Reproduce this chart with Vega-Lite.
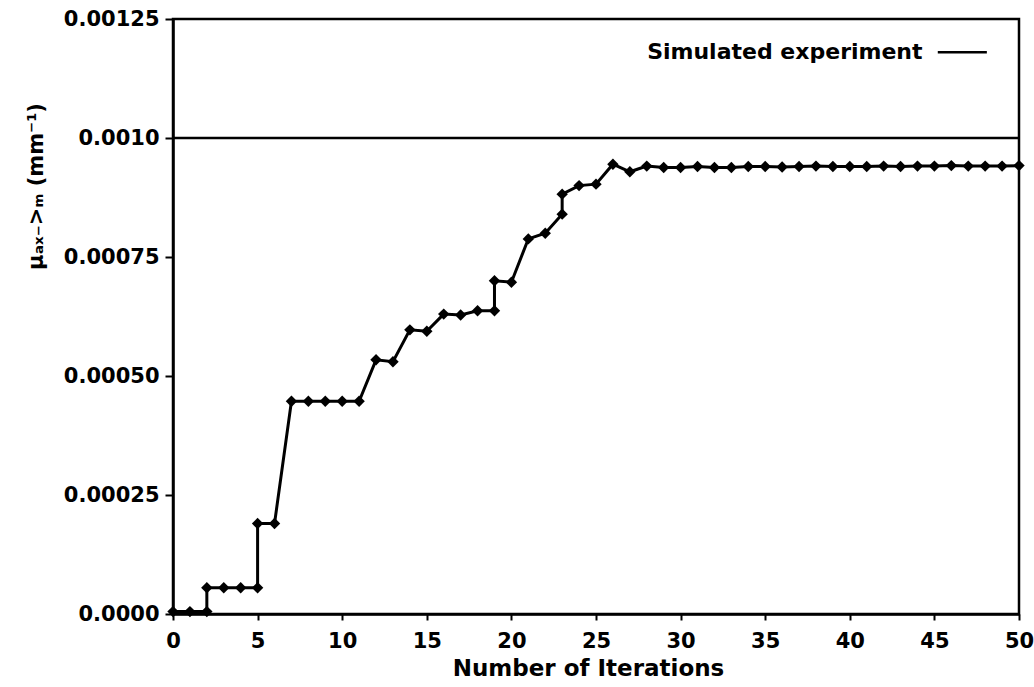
{
  "$schema": "https://vega.github.io/schema/vega-lite/v6.json",
  "width": 846,
  "height": 595,
  "autosize": {"type": "none"},
  "padding": {"left": 173, "top": 19, "right": 15, "bottom": 73},
  "background": "white",
  "config": {"view": {"stroke": "black", "strokeWidth": 2.5}, "font": "DejaVu Sans"},
  "datasets": {
    "iterations": [
      {"step": 0, "iteration": 0, "mu": 0.000005},
      {"step": 1, "iteration": 1, "mu": 0.000005},
      {"step": 2, "iteration": 2, "mu": 0.000005},
      {"step": 3, "iteration": 2, "mu": 0.000055},
      {"step": 4, "iteration": 3, "mu": 0.000055},
      {"step": 5, "iteration": 4, "mu": 0.000055},
      {"step": 6, "iteration": 5, "mu": 0.000055},
      {"step": 7, "iteration": 5, "mu": 0.00019},
      {"step": 8, "iteration": 6, "mu": 0.00019},
      {"step": 9, "iteration": 7, "mu": 0.000447},
      {"step": 10, "iteration": 8, "mu": 0.000447},
      {"step": 11, "iteration": 9, "mu": 0.000447},
      {"step": 12, "iteration": 10, "mu": 0.000447},
      {"step": 13, "iteration": 11, "mu": 0.000447},
      {"step": 14, "iteration": 12, "mu": 0.000534},
      {"step": 15, "iteration": 13, "mu": 0.00053},
      {"step": 16, "iteration": 14, "mu": 0.000597},
      {"step": 17, "iteration": 15, "mu": 0.000594},
      {"step": 18, "iteration": 16, "mu": 0.00063},
      {"step": 19, "iteration": 17, "mu": 0.000628},
      {"step": 20, "iteration": 18, "mu": 0.000637},
      {"step": 21, "iteration": 19, "mu": 0.000637},
      {"step": 22, "iteration": 19, "mu": 0.0007},
      {"step": 23, "iteration": 20, "mu": 0.000697},
      {"step": 24, "iteration": 21, "mu": 0.000788},
      {"step": 25, "iteration": 22, "mu": 0.0008},
      {"step": 26, "iteration": 23, "mu": 0.00084},
      {"step": 27, "iteration": 23, "mu": 0.000882},
      {"step": 28, "iteration": 24, "mu": 0.0009},
      {"step": 29, "iteration": 25, "mu": 0.000903},
      {"step": 30, "iteration": 26, "mu": 0.000945},
      {"step": 31, "iteration": 27, "mu": 0.000929},
      {"step": 32, "iteration": 28, "mu": 0.000941},
      {"step": 33, "iteration": 29, "mu": 0.000938},
      {"step": 34, "iteration": 30, "mu": 0.000938},
      {"step": 35, "iteration": 31, "mu": 0.00094},
      {"step": 36, "iteration": 32, "mu": 0.000938},
      {"step": 37, "iteration": 33, "mu": 0.000938},
      {"step": 38, "iteration": 34, "mu": 0.00094},
      {"step": 39, "iteration": 35, "mu": 0.00094},
      {"step": 40, "iteration": 36, "mu": 0.000939},
      {"step": 41, "iteration": 37, "mu": 0.00094},
      {"step": 42, "iteration": 38, "mu": 0.000941},
      {"step": 43, "iteration": 39, "mu": 0.00094},
      {"step": 44, "iteration": 40, "mu": 0.00094},
      {"step": 45, "iteration": 41, "mu": 0.00094},
      {"step": 46, "iteration": 42, "mu": 0.000941},
      {"step": 47, "iteration": 43, "mu": 0.00094},
      {"step": 48, "iteration": 44, "mu": 0.000941},
      {"step": 49, "iteration": 45, "mu": 0.000941},
      {"step": 50, "iteration": 46, "mu": 0.000942},
      {"step": 51, "iteration": 47, "mu": 0.000941},
      {"step": 52, "iteration": 48, "mu": 0.000941},
      {"step": 53, "iteration": 49, "mu": 0.000941},
      {"step": 54, "iteration": 50, "mu": 0.000942}
    ],
    "simulated": [
      {"iteration": 0, "mu": 0.001},
      {"iteration": 50, "mu": 0.001}
    ],
    "legend": [
      {"label": "Simulated experiment", "iteration": 44.3, "line_start": 45.2, "line_end": 48.1, "mu": 0.00118}
    ]
  },
  "encoding": {
    "x": {
      "field": "iteration",
      "type": "quantitative",
      "scale": {"domain": [0, 50], "nice": false, "zero": false},
      "axis": {
        "values": [0, 5, 10, 15, 20, 25, 30, 35, 40, 45, 50],
        "format": "d",
        "grid": false,
        "domainColor": "black",
        "domainWidth": 2.5,
        "tickColor": "black",
        "tickWidth": 2,
        "tickSize": 6,
        "labelFont": "DejaVu Sans",
        "labelFontWeight": "bold",
        "labelFontSize": 21,
        "labelColor": "black",
        "labelPadding": 10,
        "labelFlush": false,
        "title": "Number of Iterations",
        "titleFont": "DejaVu Sans",
        "titleFontWeight": "bold",
        "titleFontSize": 23,
        "titleColor": "black",
        "titlePadding": 6,
        "titleX": 415
      }
    },
    "y": {
      "field": "mu",
      "type": "quantitative",
      "scale": {"domain": [0, 0.00125], "nice": false},
      "axis": {
        "values": [0, 0.00025, 0.0005, 0.00075, 0.001, 0.00125],
        "labelExpr": "datum.value == 0 ? '0.0000' : datum.value == 0.001 ? '0.0010' : format(datum.value, '.5f')",
        "grid": false,
        "domainColor": "black",
        "domainWidth": 2.5,
        "tickColor": "black",
        "tickWidth": 2,
        "tickSize": 8,
        "labelFont": "DejaVu Sans",
        "labelFontWeight": "bold",
        "labelFontSize": 21,
        "labelColor": "black",
        "labelPadding": 6,
        "labelFlush": false,
        "title": "μₐₓ₋>ₘ (mm⁻¹)",
        "titleFont": "DejaVu Sans",
        "titleFontWeight": "bold",
        "titleFontSize": 21,
        "titleColor": "black",
        "titleAngle": 270,
        "titleAlign": "center",
        "titleBaseline": "middle",
        "titleX": -137,
        "titleY": 167
      }
    }
  },
  "layer": [
    {
      "data": {"name": "simulated"},
      "mark": {"type": "line", "color": "black", "strokeWidth": 2.5}
    },
    {
      "data": {"name": "iterations"},
      "mark": {
        "type": "line",
        "color": "black",
        "strokeWidth": 3,
        "point": {"shape": "diamond", "size": 130, "filled": true, "color": "black", "opacity": 1}
      },
      "encoding": {"order": {"field": "step", "type": "quantitative"}}
    },
    {
      "data": {"name": "legend"},
      "mark": {"type": "text", "align": "right", "baseline": "middle", "font": "DejaVu Sans", "fontWeight": "bold", "fontSize": 22, "color": "black"},
      "encoding": {"text": {"field": "label"}}
    },
    {
      "data": {"name": "legend"},
      "mark": {"type": "rule", "color": "black", "strokeWidth": 2.5},
      "encoding": {
        "x": {"field": "line_start", "type": "quantitative"},
        "x2": {"field": "line_end"}
      }
    }
  ]
}
